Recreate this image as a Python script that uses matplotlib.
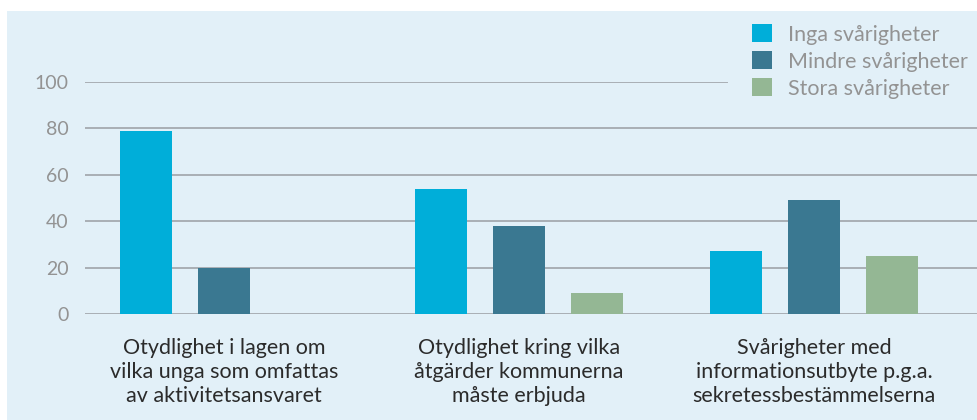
import matplotlib
matplotlib.use("Agg")
import matplotlib.pyplot as plt
from matplotlib.patches import Rectangle
import numpy as np

categories = [
    "Otydlighet i lagen om\nvilka unga som omfattas\nav aktivitetsansvaret",
    "Otydlighet kring vilka\nåtgärder kommunerna\nmåste erbjuda",
    "Svårigheter med\ninformationsutbyte p.g.a.\nsekretessbestämmelserna",
]
series_names = ["Inga svårigheter", "Mindre svårigheter", "Stora svårigheter"]
inga = [79, 54, 27]
mindre = [20, 38, 49]
stora = [0, 9, 25]
yticks = [0, 20, 40, 60, 80, 100]

colors = ["#00AED9", "#3A7891", "#94B794"]
bg = "#E2F0F8"
grid_c = "#A9AFB5"

W, H = 978, 420
fig = plt.figure(figsize=(W / 100, H / 100), dpi=100)
fig.patch.set_facecolor("white")
fig.add_artist(Rectangle((7 / W, 0), 1 - 7 / W, 1 - 11 / H, transform=fig.transFigure,
                         facecolor=bg, edgecolor="none", zorder=-10))

# axes placement in pixels
x0, x1 = 85, 978
y0, y1 = 314.3, 81.7
ax = fig.add_axes([x0 / W, 1 - y0 / H, (x1 - x0) / W, (y0 - y1) / H])
ax.set_facecolor("none")
ppu = 295.0
ax.set_xlim((x0 - 224) / ppu, (x1 - 224) / ppu)
ax.set_ylim(0, 100)

step, width = 0.264, 0.176
x = np.arange(len(categories))
handles = []
for i, (vals, name) in enumerate(zip([inga, mindre, stora], series_names)):
    h = ax.bar(x + (i - 1) * step, vals, width=width, color=colors[i], label=name, zorder=3)
    handles.append(h)

for t in yticks:
    xmax = (727 - x0) / (x1 - x0) if t == 100 else 1.0
    ax.axhline(t, xmin=0, xmax=xmax, color=grid_c, lw=1.4, zorder=2)

for s in ax.spines.values():
    s.set_visible(False)
ax.set_yticks(yticks)
ax.set_yticklabels([str(t) for t in yticks], fontsize=14, color="#939393", family="Lato")
ax.tick_params(axis="y", length=0, pad=12)
ax.set_xticks(x)
ax.set_xticklabels(categories, fontsize=15.5, color="#2B2B2B", family="Lato", linespacing=1.25)
ax.tick_params(axis="x", length=0, pad=17)

leg = ax.legend(handles=handles, loc="upper left", bbox_to_anchor=(752 / W, 1 - 24 / H),
                bbox_transform=fig.transFigure, frameon=False,
                prop={"family": "Lato", "size": 15.5}, labelcolor="#939393",
                handlelength=0.93, handleheight=0.93, handletextpad=0.75, labelspacing=0.3,
                borderpad=0, borderaxespad=0)

fig.savefig("out.png", dpi=100)
